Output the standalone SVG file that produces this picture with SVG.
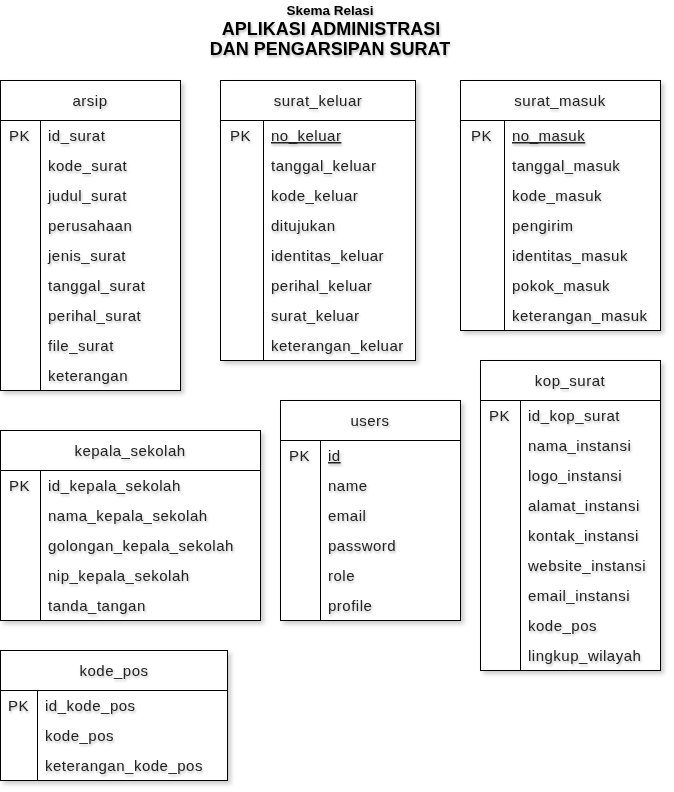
<svg xmlns="http://www.w3.org/2000/svg" width="674" height="792" viewBox="0 0 674 792">
<defs>
<filter id="ts" x="-10%" y="-30%" width="130%" height="180%"><feDropShadow dx="1" dy="2" stdDeviation="1.2" flood-color="#000" flood-opacity="0.25"/></filter>
<filter id="bs" x="-5%" y="-5%" width="115%" height="115%"><feDropShadow dx="3" dy="3" stdDeviation="2" flood-color="#000" flood-opacity="0.2"/></filter>
</defs>
<style>
text{font-family:"Liberation Sans",Arial,sans-serif;fill:#222}
.t{font-size:15px;letter-spacing:0.5px;filter:url(#ts)}
.h{text-anchor:middle}
.u{text-decoration:underline}
.title{font-weight:bold;text-anchor:middle;fill:#000;filter:url(#ts)}
.box{fill:#fff;stroke:#000;stroke-width:1;filter:url(#bs)}
.ln{stroke:#000;stroke-width:1;fill:none}
</style>
<rect width="674" height="792" fill="#fff"/>
<g id="title">
<text class="title" x="330" y="15" font-size="13.5">Skema Relasi</text>
<text class="title" x="331" y="35" font-size="18">APLIKASI ADMINISTRASI</text>
<text class="title" x="330" y="55" font-size="18">DAN PENGARSIPAN SURAT</text>
</g>
<g id="arsip">
<rect class="box" x="0.5" y="80.5" width="180" height="310"/>
<path class="ln" d="M0.5 120.5H180.5M40.5 120.5V390.5"/>
<text class="t h" x="90" y="106">arsip</text>
<text class="t" x="9" y="141">PK</text>
<text class="t" x="48" y="141">id_surat</text>
<text class="t" x="48" y="171">kode_surat</text>
<text class="t" x="48" y="201">judul_surat</text>
<text class="t" x="48" y="231">perusahaan</text>
<text class="t" x="48" y="261">jenis_surat</text>
<text class="t" x="48" y="291">tanggal_surat</text>
<text class="t" x="48" y="321">perihal_surat</text>
<text class="t" x="48" y="351">file_surat</text>
<text class="t" x="48" y="381">keterangan</text>
</g>
<g id="surat_keluar">
<rect class="box" x="220.5" y="80.5" width="195" height="280"/>
<path class="ln" d="M220.5 120.5H415.5M263.5 120.5V360.5"/>
<text class="t h" x="318" y="106">surat_keluar</text>
<text class="t" x="230" y="141">PK</text>
<text class="t u" x="271" y="141">no_keluar</text>
<text class="t" x="271" y="171">tanggal_keluar</text>
<text class="t" x="271" y="201">kode_keluar</text>
<text class="t" x="271" y="231">ditujukan</text>
<text class="t" x="271" y="261">identitas_keluar</text>
<text class="t" x="271" y="291">perihal_keluar</text>
<text class="t" x="271" y="321">surat_keluar</text>
<text class="t" x="271" y="351">keterangan_keluar</text>
</g>
<g id="surat_masuk">
<rect class="box" x="460.5" y="80.5" width="200" height="250"/>
<path class="ln" d="M460.5 120.5H660.5M504.5 120.5V330.5"/>
<text class="t h" x="560" y="106">surat_masuk</text>
<text class="t" x="471" y="141">PK</text>
<text class="t u" x="512" y="141">no_masuk</text>
<text class="t" x="512" y="171">tanggal_masuk</text>
<text class="t" x="512" y="201">kode_masuk</text>
<text class="t" x="512" y="231">pengirim</text>
<text class="t" x="512" y="261">identitas_masuk</text>
<text class="t" x="512" y="291">pokok_masuk</text>
<text class="t" x="512" y="321">keterangan_masuk</text>
</g>
<g id="kop_surat">
<rect class="box" x="480.5" y="360.5" width="180" height="310"/>
<path class="ln" d="M480.5 400.5H660.5M520.5 400.5V670.5"/>
<text class="t h" x="570" y="386">kop_surat</text>
<text class="t" x="489" y="421">PK</text>
<text class="t" x="528" y="421">id_kop_surat</text>
<text class="t" x="528" y="451">nama_instansi</text>
<text class="t" x="528" y="481">logo_instansi</text>
<text class="t" x="528" y="511">alamat_instansi</text>
<text class="t" x="528" y="541">kontak_instansi</text>
<text class="t" x="528" y="571">website_instansi</text>
<text class="t" x="528" y="601">email_instansi</text>
<text class="t" x="528" y="631">kode_pos</text>
<text class="t" x="528" y="661">lingkup_wilayah</text>
</g>
<g id="users">
<rect class="box" x="280.5" y="400.5" width="180" height="220"/>
<path class="ln" d="M280.5 440.5H460.5M320.5 440.5V620.5"/>
<text class="t h" x="370" y="426">users</text>
<text class="t" x="289" y="461">PK</text>
<text class="t u" x="328" y="461">id</text>
<text class="t" x="328" y="491">name</text>
<text class="t" x="328" y="521">email</text>
<text class="t" x="328" y="551">password</text>
<text class="t" x="328" y="581">role</text>
<text class="t" x="328" y="611">profile</text>
</g>
<g id="kepala_sekolah">
<rect class="box" x="0.5" y="430.5" width="260" height="190"/>
<path class="ln" d="M0.5 470.5H260.5M40.5 470.5V620.5"/>
<text class="t h" x="130" y="456">kepala_sekolah</text>
<text class="t" x="9" y="491">PK</text>
<text class="t" x="48" y="491">id_kepala_sekolah</text>
<text class="t" x="48" y="521">nama_kepala_sekolah</text>
<text class="t" x="48" y="551">golongan_kepala_sekolah</text>
<text class="t" x="48" y="581">nip_kepala_sekolah</text>
<text class="t" x="48" y="611">tanda_tangan</text>
</g>
<g id="kode_pos">
<rect class="box" x="0.5" y="650.5" width="227" height="130"/>
<path class="ln" d="M0.5 690.5H227.5M37.5 690.5V780.5"/>
<text class="t h" x="114" y="676">kode_pos</text>
<text class="t" x="8" y="711">PK</text>
<text class="t" x="45" y="711">id_kode_pos</text>
<text class="t" x="45" y="741">kode_pos</text>
<text class="t" x="45" y="771">keterangan_kode_pos</text>
</g>
<g id="connectors"></g>
</svg>
